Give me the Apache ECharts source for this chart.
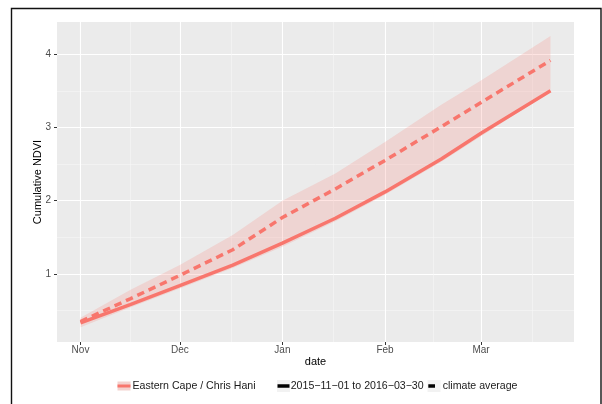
<!DOCTYPE html>
<html>
<head>
<meta charset="utf-8">
<script src="https://cdn.jsdelivr.net/npm/echarts@6/dist/echarts.min.js"></script>
<style>
  html, body { margin: 0; padding: 0; background: #ffffff; }
  #chart { width: 602px; height: 404px; }
</style>
</head>
<body>
<div id="chart"></div>
<script>
// Observation dates for the season and the climate reference
const dates = ['2015-11-01', '2015-11-16', '2015-12-01', '2015-12-17', '2016-01-01',
               '2016-01-17', '2016-02-01', '2016-02-18', '2016-03-01', '2016-03-22'];

// Cumulative NDVI, 2015-11-01 to 2016-03-30
const seasonNdvi   = [0.33, 0.58, 0.84, 1.12, 1.42, 1.76, 2.12, 2.57, 2.92, 3.50];
// Climate average and its envelope
const climateMean  = [0.35, 0.66, 0.98, 1.33, 1.77, 2.16, 2.55, 3.01, 3.34, 3.915];
const climateUpper = [0.40, 0.78, 1.12, 1.53, 2.00, 2.37, 2.80, 3.31, 3.64, 4.25];
const climateLower = [0.27, 0.54, 0.80, 1.08, 1.37, 1.72, 2.08, 2.53, 2.88, 3.49];

// Axis breaks
const monthBreaks = ['2015-11-01', '2015-12-01', '2016-01-01', '2016-02-01', '2016-03-01', '2016-04-01'];
const monthNames  = ['Jan', 'Feb', 'Mar', 'Apr', 'May', 'Jun', 'Jul', 'Aug', 'Sep', 'Oct', 'Nov', 'Dec'];
const yBreaks      = [1, 2, 3, 4];
const yMinorBreaks = [0.5, 1.5, 2.5, 3.5];

const regionName  = 'Eastern Cape / Chris Hani';
const seasonName  = '2015\u221211\u221201 to 2016\u221203\u221230';
const climateName = 'climate average';

const FONT = "'Liberation Sans', Arial, Helvetica, sans-serif";
const RED = '#F8766D';

function toTime(s) {
  const p = s.split('-').map(Number);
  return new Date(p[0], p[1] - 1, p[2]).getTime();
}

const times = dates.map(toTime);
const breakTimes = monthBreaks.map(toTime);
const minorTimes = breakTimes.slice(0, -1).map((t, i) => (t + breakTimes[i + 1]) / 2);

// 5% expansion of the date range on each side
const span = times[times.length - 1] - times[0];
const xMin = times[0] - 0.05 * span;
const xMax = times[times.length - 1] + 0.05 * span;
const inRange = (t) => t >= xMin && t <= xMax;
const majorX = breakTimes.filter(inRange);
const minorX = minorTimes.filter(inRange);
const yMin = 0.07, yMax = 4.44;

const pairs = (vals) => times.map((t, i) => [t, vals[i]]);
const envelopeRows = times.map((t, i) => [t, climateLower[i], climateUpper[i]]);

// Envelope polygon: upper edge left-to-right, then lower edge back
function renderEnvelope(params, api) {
  if (params.dataIndex !== 0) return null;
  const upper = times.map((t, i) => api.coord([t, climateUpper[i]]));
  const lower = times.map((t, i) => api.coord([t, climateLower[i]])).reverse();
  return {
    type: 'polygon',
    shape: { points: upper.concat(lower) },
    style: { fill: RED, opacity: 0.2 },
    silent: true
  };
}

const chart = echarts.init(document.getElementById('chart'), null, { renderer: 'canvas' });

const tickLabelStyle = { color: '#4D4D4D', fontSize: 10, fontFamily: FONT };

chart.setOption({
  animation: false,
  backgroundColor: '#ffffff',
  grid: {
    left: 57, right: 28, top: 22, bottom: 62,
    show: true, backgroundColor: '#EBEBEB', borderWidth: 0
  },
  xAxis: [
    {
      type: 'value', min: xMin, max: xMax, scale: true,
      axisLine: { show: false },
      axisTick: { show: true, length: 3, lineStyle: { color: '#333333', width: 1 }, customValues: majorX },
      axisLabel: Object.assign({
        customValues: majorX, margin: 3, showMinLabel: true, showMaxLabel: true,
        formatter: (v) => monthNames[new Date(v).getMonth()]
      }, tickLabelStyle),
      splitLine: { show: true, lineStyle: { color: '#ffffff', width: 1.1 } },
      name: 'date', nameLocation: 'middle', nameGap: 14, nameMoveOverlap: false,
      nameTextStyle: { color: '#000000', fontSize: 11, fontFamily: FONT }
    },
    {
      type: 'value', min: xMin, max: xMax, scale: true, position: 'bottom',
      axisLine: { show: false },
      axisTick: { show: false, customValues: minorX },
      axisLabel: { show: false, customValues: minorX },
      splitLine: { show: true, lineStyle: { color: '#F7F7F7', width: 0.6 } }
    }
  ],
  yAxis: [
    {
      type: 'value', min: yMin, max: yMax,
      axisLine: { show: false },
      axisTick: { show: true, length: 3, lineStyle: { color: '#333333', width: 1 }, customValues: yBreaks },
      axisLabel: Object.assign({ customValues: yBreaks, margin: 6 }, tickLabelStyle),
      splitLine: { show: true, lineStyle: { color: '#ffffff', width: 1.1 } },
      name: 'Cumulative NDVI', nameLocation: 'middle', nameGap: 14, nameRotate: 90, nameMoveOverlap: false,
      nameTextStyle: { color: '#000000', fontSize: 11, fontFamily: FONT }
    },
    {
      type: 'value', min: yMin, max: yMax,
      axisLine: { show: false },
      axisTick: { show: false, customValues: yMinorBreaks },
      axisLabel: { show: false, customValues: yMinorBreaks },
      splitLine: { show: true, lineStyle: { color: '#F7F7F7', width: 0.6 } }
    }
  ],
  series: [
    {
      name: regionName, type: 'custom', renderItem: renderEnvelope,
      data: envelopeRows, encode: { x: 0, y: [1, 2] }, silent: true, z: 3
    },
    {
      name: seasonName, type: 'line', data: pairs(seasonNdvi),
      symbol: 'none', silent: true,
      lineStyle: { color: RED, width: 3.5, cap: 'butt' }, z: 5
    },
    {
      name: climateName, type: 'line', data: pairs(climateMean),
      symbol: 'none', silent: true,
      lineStyle: { color: RED, width: 3.5, type: [7.5, 5], cap: 'butt' }, z: 5
    }
  ],
  graphic: [
    // outer frame
    { type: 'rect', silent: true, shape: { x: 11.5, y: 8.5, width: 589.5, height: 420 },
      style: { fill: 'none', stroke: '#111111', lineWidth: 1.4 } },
    // legend: region key
    { type: 'rect', shape: { x: 117.5, y: 381.5, width: 13, height: 9 }, style: { fill: '#F3D2CF' } },
    { type: 'line', shape: { x1: 117.5, y1: 386, x2: 130.5, y2: 386 }, style: { stroke: RED, lineWidth: 3 } },
    { type: 'text', style: { x: 132.5, y: 386, text: regionName, fill: '#1A1A1A',
      font: '10.6px ' + FONT, verticalAlign: 'middle' } },
    // legend: season key
    { type: 'rect', shape: { x: 277, y: 380, width: 13, height: 12 }, style: { fill: '#F2F2F2' } },
    { type: 'line', shape: { x1: 277.5, y1: 386, x2: 289.5, y2: 386 }, style: { stroke: '#000000', lineWidth: 3.5 } },
    { type: 'text', style: { x: 290.7, y: 386, text: seasonName, fill: '#1A1A1A',
      font: '10.6px ' + FONT, verticalAlign: 'middle' } },
    // legend: climate key
    { type: 'rect', shape: { x: 427.5, y: 380, width: 13, height: 12 }, style: { fill: '#F2F2F2' } },
    { type: 'line', shape: { x1: 428.3, y1: 386, x2: 435, y2: 386 }, style: { stroke: '#000000', lineWidth: 3.5 } },
    { type: 'text', style: { x: 442.7, y: 386, text: climateName, fill: '#1A1A1A',
      font: '10.6px ' + FONT, verticalAlign: 'middle' } }
  ]
});
</script>
</body>
</html>
